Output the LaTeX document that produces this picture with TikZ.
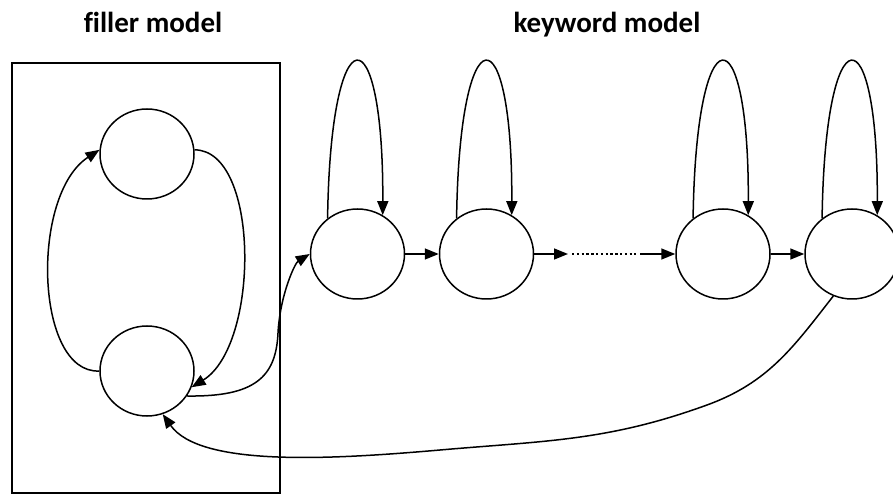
\documentclass[tikz,border=0pt]{standalone}
\usepackage{fontspec}
\setmainfont{Carlito}[Ligatures=NoCommon]
\usetikzlibrary{arrows.meta,shapes.geometric}
\begin{document}
\begin{tikzpicture}[x=1pt,y=1pt,
  state/.style={draw, line width=1.5pt, ellipse, minimum width=94pt, minimum height=90pt, inner sep=0pt},
  conn/.style={line width=1.5pt, -{Triangle[length=14pt,width=11pt]}},
  dotline/.style={line width=2.6pt, dash pattern=on 2.4pt off 2.4pt},
  frame/.style={draw, line width=1.8pt, minimum width=268pt, minimum height=430pt, inner sep=0pt},
  title/.style={font=\bfseries\fontsize{29}{32}\selectfont, anchor=base}]
\useasboundingbox (0,0) rectangle (893,495);
% titles
\node[title] (tf) at (153,462) {filler model};
\node[title] (tk) at (607,462) {keyword model};
% filler box
\node[frame] (box) at (146,217) {};
% states
\node[state] (f1) at (147,341) {};
\node[state] (f2) at (147,124) {};
\node[state] (k1) at (357.5,241) {};
\node[state] (k2) at (486.5,241) {};
\node[state] (k3) at (723,241) {};
\node[state] (k4) at (852,241) {};
% filler loops
\draw[conn] (f2.west) .. controls (35,121) and (30,300) .. (f1.175);
\draw[conn] (f1.5) .. controls (260,345) and (260,150) .. (f2.-20);
% filler to keyword
\coordinate (c1) at (278,162);
\draw[conn] (f2.-32) .. controls (255,98) and (276,118) .. (c1)
  .. controls (280,200) and (295,232) .. (k1.west);
% self loops
\foreach \k in {k1,k2,k3,k4}{
  \draw[conn] (\k.130) .. controls +(3,208) and +(1,205) .. (\k.57);
}
% chain
\draw[conn] (k1.east) -- (k2.west);
\coordinate (d1) at (568,241);
\coordinate (d2) at (572,241);
\coordinate (d3) at (636,241);
\coordinate (d4) at (640,241);
\draw[conn] (k2.east) -- (d1);
\draw[dotline] (d2) -- (d3);
\draw[conn] (d4) -- (k3.west);
\draw[conn] (k3.east) -- (k4.west);
% back loop
\coordinate (m1) at (707,90);
\coordinate (m2) at (440,45);
\draw[conn] (k4.246) to[out=232,in=20] (m1)
  to[out=200,in=5] (m2)
  .. controls (330,35.4) and (200,28) .. (f2.-70);
\end{tikzpicture}
\end{document}
